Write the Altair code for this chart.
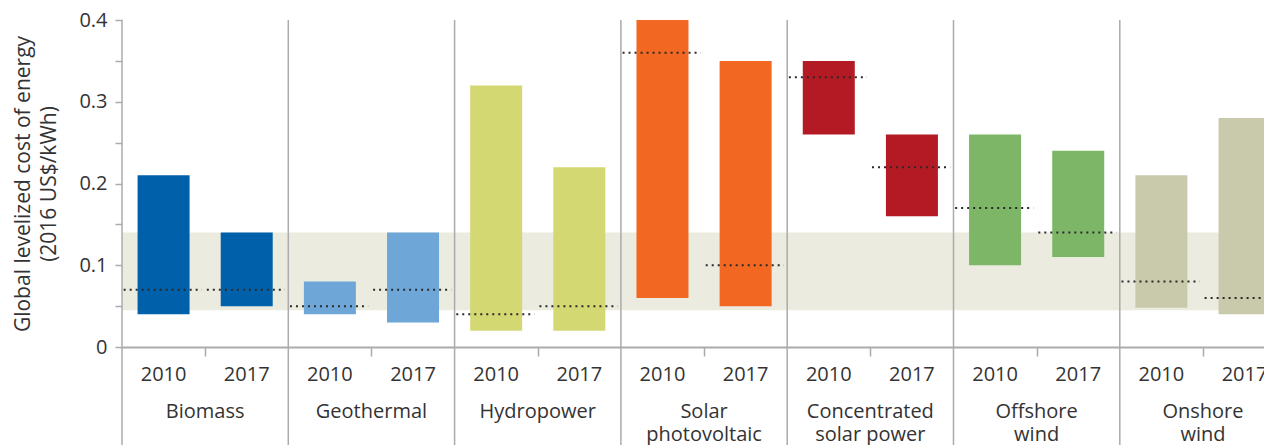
import altair as alt
import pandas as pd

groups = ["Biomass", "Geothermal", "Hydropower", "Solar photovoltaic",
          "Concentrated solar power", "Offshore wind", "Onshore wind"]
group_labels = ["Biomass", "Geothermal", "Hydropower", "Solar\nphotovoltaic",
                "Concentrated\nsolar power", "Offshore\nwind", "Onshore\nwind"]
colors = ["#0061AA", "#6EA6D8", "#D4D873", "#F26722", "#B41A24", "#7EB668", "#C8CAAB"]
years = ["2010", "2017"]

low_2010 = [0.04, 0.04, 0.02, 0.06, 0.26, 0.10, 0.048]
high_2010 = [0.21, 0.08, 0.32, 0.40, 0.35, 0.26, 0.21]
avg_2010 = [0.07, 0.05, 0.04, 0.36, 0.33, 0.17, 0.08]
low_2017 = [0.05, 0.03, 0.02, 0.05, 0.16, 0.11, 0.04]
high_2017 = [0.14, 0.14, 0.22, 0.35, 0.26, 0.24, 0.28]
avg_2017 = [0.07, 0.07, 0.05, 0.10, 0.22, 0.14, 0.06]

fossil_low, fossil_high = 0.045, 0.14
y_ticks = [0, 0.05, 0.1, 0.15, 0.2, 0.25, 0.3, 0.35, 0.4]

rows = []
for i, g in enumerate(groups):
    for j, (lo, hi, av) in enumerate([(low_2010[i], high_2010[i], avg_2010[i]),
                                      (low_2017[i], high_2017[i], avg_2017[i])]):
        rows.append(dict(group=g, year=years[j], pos=i + 0.25 + 0.5 * j,
                         low=lo, high=hi, avg=av, color=colors[i],
                         a0=i + 0.5 * j + 0.01, a1=i + 0.5 * j + 0.48))
bars = pd.DataFrame(rows)
labels_df = pd.DataFrame(dict(label=group_labels, center=[i + 0.5 for i in range(len(groups))]))
seps = pd.DataFrame(dict(b=list(range(len(groups)))))
band = pd.DataFrame(dict(x0=[0], x1=[len(groups)], lo=[fossil_low], hi=[fossil_high]))

W, H = 1142, 327
group_px = 166.3
xscale = alt.Scale(domain=[0, W / group_px], nice=False, zero=False, padding=0)
yscale = alt.Scale(domain=[0, 0.4], nice=False, padding=0)
FONT = "Open Sans"
GRAY = "#ababab"
TXT = "#333333"

xaxis = alt.Axis(
    values=[i + 0.5 for i in range(len(groups))], labels=False, ticks=True,
    tickSize=9, tickColor=GRAY, tickWidth=1.5, domainColor=GRAY, domainWidth=2,
    grid=False, title=None)
yaxis = alt.Axis(
    values=y_ticks, format=".1~f",
    labelExpr="(round(datum.value*100) % 10 == 0) ? datum.label : ''",
    tickSize=7, tickColor=GRAY, tickWidth=1.5, domain=False, grid=False,
    labelFontSize=20, labelColor=TXT, labelFont=FONT, labelPadding=8,
    title=["Global levelized cost of energy", "(2016 US$/kWh)"],
    titleFontSize=21, titleFont=FONT, titleFontWeight="normal", titleColor=TXT,
    titlePadding=19, titleLineHeight=26)

band_layer = alt.Chart(band).mark_rect(color="#EBEBE0", clip=True).encode(
    x=alt.X("x0:Q", scale=xscale, axis=xaxis),
    x2="x1:Q",
    y=alt.Y("lo:Q", scale=yscale, axis=yaxis),
    y2="hi:Q",
)

bar_layer = alt.Chart(bars).mark_bar(size=52, clip=True).encode(
    x=alt.X("pos:Q", scale=xscale, axis=xaxis),
    y=alt.Y("low:Q", scale=yscale, axis=yaxis),
    y2="high:Q",
    color=alt.Color("color:N", scale=None),
)

avg_layer = alt.Chart(bars).mark_rule(color="#2a2a2a", strokeDash=[2, 4], strokeWidth=2, clip=True).encode(
    x=alt.X("a0:Q", scale=xscale, axis=xaxis),
    x2="a1:Q",
    y=alt.Y("avg:Q", scale=yscale, axis=yaxis),
)

sep_layer = alt.Chart(seps).mark_rule(color=GRAY, strokeWidth=1.5).encode(
    x=alt.X("b:Q", scale=xscale, axis=xaxis),
    y=alt.value(0),
    y2=alt.value(430),
)

year_layer = alt.Chart(bars).mark_text(fontSize=20, font=FONT, color=TXT, baseline="middle").encode(
    x=alt.X("pos:Q", scale=xscale, axis=xaxis),
    y=alt.value(355),
    text="year:N",
)

cat_layer = alt.Chart(labels_df).mark_text(fontSize=20, font=FONT, color=TXT, baseline="middle",
                                           lineBreak="\n", lineHeight=23).encode(
    x=alt.X("center:Q", scale=xscale, axis=xaxis),
    y=alt.value(392),
    text="label:N",
)

chart = alt.layer(band_layer, bar_layer, avg_layer, sep_layer, year_layer, cat_layer).properties(
    width=W, height=H,
    autosize=alt.AutoSizeParams(type="none"),
    padding={"left": 114, "top": 12, "right": 0, "bottom": 98},
    background="white",
).configure_view(stroke=None)

chart.save("out.html", embed_options={"renderer": "svg", "actions": False})
